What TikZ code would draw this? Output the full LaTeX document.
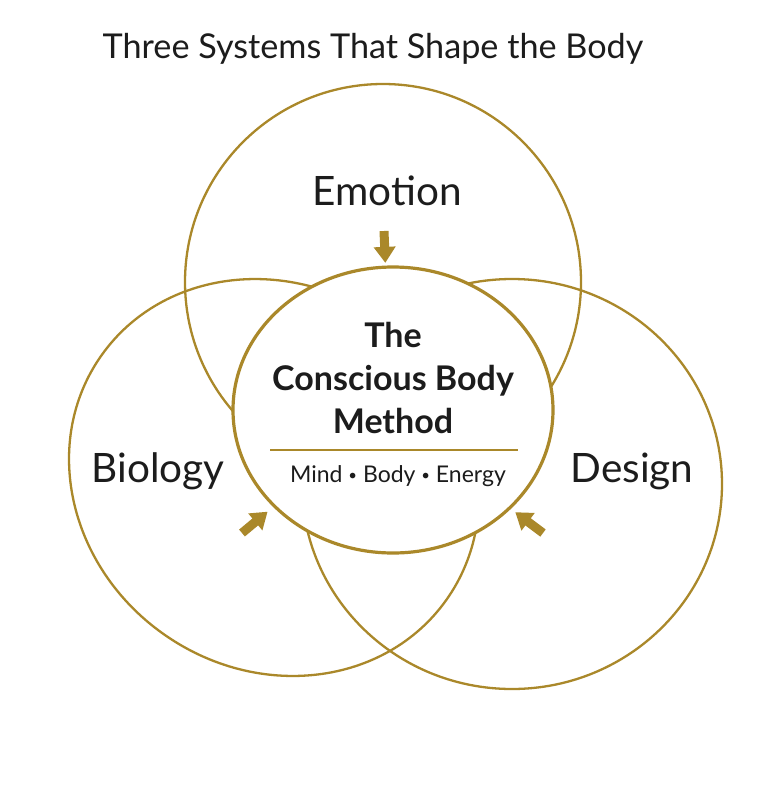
\documentclass[tikz,border=0pt]{standalone}
\usepackage{fontspec}
\setmainfont{Lato}
\usetikzlibrary{arrows.meta,shapes.geometric,positioning}
\definecolor{gold}{RGB}{170,136,42}
\definecolor{inkC}{RGB}{28,28,28}

\newcommand{\sep}{{\fontsize{15}{15}\selectfont\raisebox{0.12em}{•}}}

\tikzset{
  ring/.style={draw=gold, line width=2.3pt},
  syslabel/.style={text=inkC, anchor=base, font=\fontsize{40.5}{48}\selectfont},
  push/.style={draw=gold, line width=9pt, -{Triangle[length=16pt,width=21pt]}},
}

\begin{document}
\begin{tikzpicture}[x=1pt,y=-1pt]
\useasboundingbox[fill=white] (0,0) rectangle (768,785);
% Title
\node[text=inkC, anchor=base, font=\fontsize{34.2}{40}\selectfont] (title) at (373,58) {Three Systems That Shape the Body};

% The three systems (hand-drawn look: slightly uneven rings)
\draw[ring] (383,282) circle (198);
\draw[ring, rotate around={-35.4:(274,477.5)}] (274,477.5) ellipse (211.4 and 191.6);
\draw[ring] (512,484) ellipse (210 and 205);
\node[syslabel] (emotion) at (387,205) {Emotion};
\node[syslabel] (biology) at (158,482) {Biology};
\node[syslabel] (design) at (632,482) {Design};

% Centre: the method
\node[ellipse, draw=gold, line width=3.2pt, fill=white,
      minimum width=320, minimum height=286] (core) at (393,410) {};
\node[text=inkC, anchor=base, align=center,
      font=\bfseries\fontsize{34}{43}\selectfont] (method) at (393,433)
  {The\\Conscious Body\\Method};
\draw[gold, line width=1.2pt] (270,450) -- (518,450);
\node[text=inkC, anchor=base, font=\fontsize{23}{28}\selectfont] (pillars) at (398,482)
  {Mind \sep{} Body \sep{} Energy};

% Arrows into the centre
\coordinate (fromEmotion) at (384,231);
\coordinate (fromBiology) at (242,533);
\coordinate (fromDesign) at (543,533);
\draw[push, shorten >=2.7pt] (fromEmotion) -- (core.93.6);
\draw[push, shorten >=7.3pt] (fromBiology) -- (core.219.2);
\draw[push, shorten >=5.5pt] (fromDesign) -- (core.320.6);
\end{tikzpicture}
\end{document}
